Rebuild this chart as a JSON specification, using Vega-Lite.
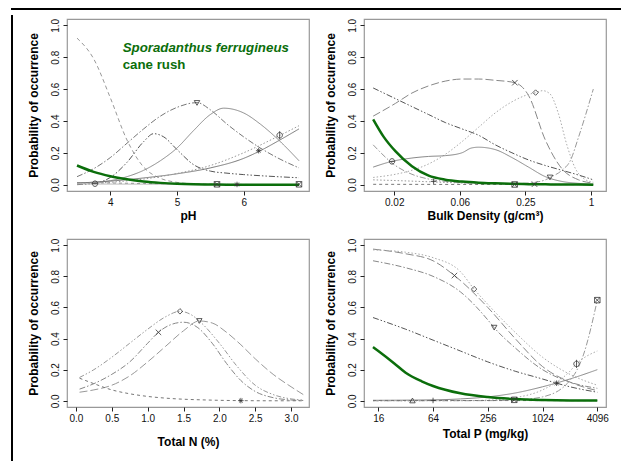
{
  "$schema": "https://vega.github.io/schema/vega-lite/v6.json",
  "padding": {"left": 9, "top": 6, "right": 0, "bottom": 0},
  "background": "white",
  "config": {
    "font": "Liberation Sans",
    "view": {"stroke": "#999", "strokeWidth": 1.2},
    "axis": {"domain": false, "grid": false, "ticks": true, "tickColor": "#222", "tickSize": 4, "labelFont": "Liberation Sans", "labelFontSize": 10, "labelColor": "#111", "labelPadding": 2, "titleFont": "Liberation Sans", "titleFontSize": 12, "titleFontWeight": "bold", "titleColor": "#000", "labelFlush": false, "labelOverlap": false},
    "axisX": {"titlePadding": 3, "labelOverlap": false},
    "axisY": {"labelAngle": 270, "labelAlign": "center", "labelBaseline": "bottom", "labelPadding": 3, "titlePadding": 10, "labelOverlap": false}
  },
  "datasets": {
    "ph": [
      {"c":"green","x":3.5,"y":0.12},{"c":"green","x":3.75,"y":0.08},{"c":"green","x":4,"y":0.053},{"c":"green","x":4.25,"y":0.034},{"c":"green","x":4.5,"y":0.02},{"c":"green","x":4.75,"y":0.011},{"c":"green","x":5,"y":0.005},{"c":"green","x":5.25,"y":0.002},{"c":"green","x":5.5,"y":0.001},{"c":"green","x":5.75,"y":0},{"c":"green","x":6,"y":0},{"c":"green","x":6.5,"y":0},{"c":"green","x":6.83,"y":0},
      {"c":"a2","x":3.5,"y":0.92},{"c":"a2","x":3.75,"y":0.79},{"c":"a2","x":4,"y":0.545},{"c":"a2","x":4.25,"y":0.28},{"c":"a2","x":4.5,"y":0.11},{"c":"a2","x":4.75,"y":0.04},{"c":"a2","x":5,"y":0.014},{"c":"a2","x":5.25,"y":0.005},{"c":"a2","x":5.5,"y":0.002},{"c":"a2","x":6,"y":0.001},{"c":"a2","x":6.83,"y":0},
      {"c":"a3","x":3.5,"y":0},{"c":"a3","x":3.75,"y":0.008},{"c":"a3","x":4,"y":0.045},{"c":"a3","x":4.25,"y":0.14},{"c":"a3","x":4.5,"y":0.27},{"c":"a3","x":4.65,"y":0.32},{"c":"a3","x":4.8,"y":0.3},{"c":"a3","x":5,"y":0.22},{"c":"a3","x":5.25,"y":0.125},{"c":"a3","x":5.5,"y":0.085},{"c":"a3","x":5.75,"y":0.072},{"c":"a3","x":6,"y":0.063},{"c":"a3","x":6.25,"y":0.056},{"c":"a3","x":6.5,"y":0.05},{"c":"a3","x":6.83,"y":0.043},
      {"c":"a4","x":3.5,"y":0.05},{"c":"a4","x":3.75,"y":0.1},{"c":"a4","x":4,"y":0.17},{"c":"a4","x":4.25,"y":0.26},{"c":"a4","x":4.5,"y":0.35},{"c":"a4","x":4.75,"y":0.43},{"c":"a4","x":5,"y":0.485},{"c":"a4","x":5.3,"y":0.515},{"c":"a4","x":5.5,"y":0.47},{"c":"a4","x":5.75,"y":0.38},{"c":"a4","x":6,"y":0.3},{"c":"a4","x":6.25,"y":0.23},{"c":"a4","x":6.5,"y":0.17},{"c":"a4","x":6.83,"y":0.105},
      {"c":"a5","x":3.5,"y":0.01},{"c":"a5","x":3.75,"y":0.015},{"c":"a5","x":4,"y":0.025},{"c":"a5","x":4.25,"y":0.05},{"c":"a5","x":4.5,"y":0.09},{"c":"a5","x":4.75,"y":0.15},{"c":"a5","x":5,"y":0.23},{"c":"a5","x":5.25,"y":0.34},{"c":"a5","x":5.5,"y":0.44},{"c":"a5","x":5.7,"y":0.48},{"c":"a5","x":6,"y":0.45},{"c":"a5","x":6.25,"y":0.38},{"c":"a5","x":6.5,"y":0.29},{"c":"a5","x":6.83,"y":0.15},
      {"c":"a6","x":3.5,"y":0.01},{"c":"a6","x":4,"y":0.022},{"c":"a6","x":4.5,"y":0.042},{"c":"a6","x":5,"y":0.068},{"c":"a6","x":5.5,"y":0.105},{"c":"a6","x":6,"y":0.165},{"c":"a6","x":6.25,"y":0.213},{"c":"a6","x":6.5,"y":0.27},{"c":"a6","x":6.83,"y":0.35},
      {"c":"a7","x":3.5,"y":0.005},{"c":"a7","x":4,"y":0.015},{"c":"a7","x":4.5,"y":0.035},{"c":"a7","x":5,"y":0.07},{"c":"a7","x":5.5,"y":0.12},{"c":"a7","x":6,"y":0.2},{"c":"a7","x":6.5,"y":0.3},{"c":"a7","x":6.83,"y":0.37},
      {"c":"a8","x":3.5,"y":0.012},{"c":"a8","x":4,"y":0.01},{"c":"a8","x":4.5,"y":0.007},{"c":"a8","x":5,"y":0.004},{"c":"a8","x":5.5,"y":0.002},{"c":"a8","x":6,"y":0.001},{"c":"a8","x":6.83,"y":0},
      {"c":"a9","x":3.5,"y":0.004},{"c":"a9","x":4.5,"y":0.003},{"c":"a9","x":5.5,"y":0.001},{"c":"a9","x":6.83,"y":0}
    ],
    "ph_pts": [
      {"s":"circ","x":3.77,"y":0.006},{"s":"tridown","x":5.3,"y":0.513},{"s":"boxx","x":5.6,"y":0.002},{"s":"star","x":5.9,"y":0.001},{"s":"star","x":6.225,"y":0.213},{"s":"phi","x":6.54,"y":0.31},{"s":"boxx","x":6.83,"y":0.002}
    ],
    "ph_txt": [
      {"t":"Sporadanthus ferrugineus","x":4.185,"y":0.858}
    ],
    "ph_txt2": [
      {"t":"cane rush","x":4.185,"y":0.753}
    ],
    "bd": [
      {"c":"green","x":0.01,"y":0.41},{"c":"green","x":0.0125,"y":0.3},{"c":"green","x":0.016,"y":0.21},{"c":"green","x":0.0227,"y":0.115},{"c":"green","x":0.0323,"y":0.056},{"c":"green","x":0.0459,"y":0.031},{"c":"green","x":0.0654,"y":0.019},{"c":"green","x":0.0929,"y":0.012},{"c":"green","x":0.132,"y":0.008},{"c":"green","x":0.188,"y":0.005},{"c":"green","x":0.267,"y":0.003},{"c":"green","x":0.381,"y":0.002},{"c":"green","x":0.541,"y":0.001},{"c":"green","x":0.77,"y":0.001},{"c":"green","x":1.05,"y":0},
      {"c":"b2","x":0.01,"y":0.43},{"c":"b2","x":0.016,"y":0.51},{"c":"b2","x":0.0227,"y":0.575},{"c":"b2","x":0.0323,"y":0.62},{"c":"b2","x":0.0459,"y":0.65},{"c":"b2","x":0.0654,"y":0.663},{"c":"b2","x":0.0929,"y":0.663},{"c":"b2","x":0.132,"y":0.655},{"c":"b2","x":0.2,"y":0.64},{"c":"b2","x":0.267,"y":0.56},{"c":"b2","x":0.381,"y":0.28},{"c":"b2","x":0.541,"y":0.1},{"c":"b2","x":0.77,"y":0.03},{"c":"b2","x":1.05,"y":0.01},
      {"c":"b3","x":0.01,"y":0.045},{"c":"b3","x":0.016,"y":0.065},{"c":"b3","x":0.0227,"y":0.09},{"c":"b3","x":0.0323,"y":0.13},{"c":"b3","x":0.0459,"y":0.19},{"c":"b3","x":0.0654,"y":0.27},{"c":"b3","x":0.0929,"y":0.36},{"c":"b3","x":0.132,"y":0.45},{"c":"b3","x":0.188,"y":0.52},{"c":"b3","x":0.25,"y":0.56},{"c":"b3","x":0.31,"y":0.578},{"c":"b3","x":0.36,"y":0.59},{"c":"b3","x":0.42,"y":0.57},{"c":"b3","x":0.5,"y":0.45},{"c":"b3","x":0.6,"y":0.25},{"c":"b3","x":0.72,"y":0.1},{"c":"b3","x":0.85,"y":0.04},{"c":"b3","x":1.05,"y":0.015},
      {"c":"b4","x":0.01,"y":0.607},{"c":"b4","x":0.016,"y":0.54},{"c":"b4","x":0.0227,"y":0.49},{"c":"b4","x":0.0323,"y":0.44},{"c":"b4","x":0.0459,"y":0.39},{"c":"b4","x":0.0654,"y":0.35},{"c":"b4","x":0.0929,"y":0.31},{"c":"b4","x":0.132,"y":0.25},{"c":"b4","x":0.188,"y":0.2},{"c":"b4","x":0.267,"y":0.155},{"c":"b4","x":0.381,"y":0.12},{"c":"b4","x":0.541,"y":0.09},{"c":"b4","x":0.77,"y":0.06},{"c":"b4","x":1.05,"y":0.03},
      {"c":"b5","x":0.01,"y":0.11},{"c":"b5","x":0.0149,"y":0.146},{"c":"b5","x":0.0227,"y":0.167},{"c":"b5","x":0.0323,"y":0.177},{"c":"b5","x":0.0459,"y":0.182},{"c":"b5","x":0.0654,"y":0.2},{"c":"b5","x":0.08,"y":0.23},{"c":"b5","x":0.0929,"y":0.235},{"c":"b5","x":0.132,"y":0.22},{"c":"b5","x":0.188,"y":0.17},{"c":"b5","x":0.267,"y":0.11},{"c":"b5","x":0.381,"y":0.05},{"c":"b5","x":0.541,"y":0.02},{"c":"b5","x":0.77,"y":0.008},{"c":"b5","x":1.05,"y":0.003},
      {"c":"b6","x":0.01,"y":0.25},{"c":"b6","x":0.016,"y":0.12},{"c":"b6","x":0.0227,"y":0.065},{"c":"b6","x":0.0323,"y":0.035},{"c":"b6","x":0.0459,"y":0.02},{"c":"b6","x":0.0654,"y":0.012},{"c":"b6","x":0.0929,"y":0.008},{"c":"b6","x":0.132,"y":0.006},{"c":"b6","x":0.188,"y":0.006},{"c":"b6","x":0.267,"y":0.01},{"c":"b6","x":0.381,"y":0.03},{"c":"b6","x":0.42,"y":0.045},{"c":"b6","x":0.541,"y":0.09},{"c":"b6","x":0.645,"y":0.15},{"c":"b6","x":0.77,"y":0.3},{"c":"b6","x":1.05,"y":0.6},
      {"c":"b7","x":0.01,"y":0.002},{"c":"b7","x":1.05,"y":0},
      {"c":"b8","x":0.01,"y":0.03},{"c":"b8","x":0.0227,"y":0.022},{"c":"b8","x":0.0323,"y":0.018},{"c":"b8","x":0.0654,"y":0.01},{"c":"b8","x":0.188,"y":0.004},{"c":"b8","x":0.381,"y":0.002},{"c":"b8","x":1.05,"y":0}
    ],
    "bd_pts": [
      {"s":"circ","x":0.0149,"y":0.146},{"s":"plus","x":0.0359,"y":0.02},{"s":"x","x":0.2,"y":0.64},{"s":"diamond","x":0.31,"y":0.578},{"s":"boxx","x":0.199,"y":0.001},{"s":"x","x":0.303,"y":0.003},{"s":"tridown","x":0.42,"y":0.045}
    ],
    "tn": [
      {"c":"c1","x":0.05,"y":0.15},{"c":"c1","x":0.25,"y":0.2},{"c":"c1","x":0.5,"y":0.28},{"c":"c1","x":0.75,"y":0.37},{"c":"c1","x":1,"y":0.46},{"c":"c1","x":1.25,"y":0.54},{"c":"c1","x":1.45,"y":0.575},{"c":"c1","x":1.6,"y":0.555},{"c":"c1","x":1.75,"y":0.5},{"c":"c1","x":2,"y":0.37},{"c":"c1","x":2.25,"y":0.22},{"c":"c1","x":2.5,"y":0.1},{"c":"c1","x":2.75,"y":0.04},{"c":"c1","x":3,"y":0.012},{"c":"c1","x":3.17,"y":0.005},
      {"c":"c2","x":0.05,"y":0.075},{"c":"c2","x":0.25,"y":0.11},{"c":"c2","x":0.5,"y":0.17},{"c":"c2","x":0.75,"y":0.25},{"c":"c2","x":1,"y":0.37},{"c":"c2","x":1.15,"y":0.44},{"c":"c2","x":1.3,"y":0.485},{"c":"c2","x":1.5,"y":0.505},{"c":"c2","x":1.7,"y":0.47},{"c":"c2","x":1.9,"y":0.37},{"c":"c2","x":2.1,"y":0.24},{"c":"c2","x":2.3,"y":0.13},{"c":"c2","x":2.5,"y":0.06},{"c":"c2","x":2.75,"y":0.02},{"c":"c2","x":3,"y":0.005},{"c":"c2","x":3.17,"y":0.002},
      {"c":"c3","x":0.05,"y":0.055},{"c":"c3","x":0.25,"y":0.07},{"c":"c3","x":0.5,"y":0.1},{"c":"c3","x":0.75,"y":0.16},{"c":"c3","x":1,"y":0.25},{"c":"c3","x":1.25,"y":0.35},{"c":"c3","x":1.5,"y":0.45},{"c":"c3","x":1.72,"y":0.513},{"c":"c3","x":1.9,"y":0.5},{"c":"c3","x":2.1,"y":0.44},{"c":"c3","x":2.3,"y":0.36},{"c":"c3","x":2.5,"y":0.27},{"c":"c3","x":2.75,"y":0.17},{"c":"c3","x":3,"y":0.09},{"c":"c3","x":3.17,"y":0.04},
      {"c":"c4","x":0.05,"y":0.145},{"c":"c4","x":0.25,"y":0.11},{"c":"c4","x":0.5,"y":0.07},{"c":"c4","x":0.75,"y":0.045},{"c":"c4","x":1,"y":0.028},{"c":"c4","x":1.25,"y":0.017},{"c":"c4","x":1.5,"y":0.01},{"c":"c4","x":1.75,"y":0.006},{"c":"c4","x":2,"y":0.003},{"c":"c4","x":2.3,"y":0.001},{"c":"c4","x":2.75,"y":0},{"c":"c4","x":3.17,"y":0}
    ],
    "tn_pts": [
      {"s":"x","x":1.15,"y":0.44},{"s":"diamond","x":1.45,"y":0.575},{"s":"tridown","x":1.72,"y":0.513},{"s":"star","x":2.3,"y":0.001}
    ],
    "tp": [
      {"c":"green","x":14,"y":0.345},{"c":"green","x":16,"y":0.32},{"c":"green","x":24,"y":0.24},{"c":"green","x":32,"y":0.18},{"c":"green","x":48,"y":0.125},{"c":"green","x":64,"y":0.095},{"c":"green","x":128,"y":0.048},{"c":"green","x":256,"y":0.024},{"c":"green","x":512,"y":0.011},{"c":"green","x":1024,"y":0.005},{"c":"green","x":2048,"y":0.002},{"c":"green","x":4096,"y":0.001},
      {"c":"d2","x":14,"y":0.975},{"c":"d2","x":32,"y":0.945},{"c":"d2","x":64,"y":0.9},{"c":"d2","x":110,"y":0.805},{"c":"d2","x":256,"y":0.6},{"c":"d2","x":512,"y":0.4},{"c":"d2","x":1024,"y":0.22},{"c":"d2","x":2048,"y":0.12},{"c":"d2","x":4096,"y":0.065},
      {"c":"d3","x":14,"y":0.97},{"c":"d3","x":32,"y":0.955},{"c":"d3","x":64,"y":0.92},{"c":"d3","x":128,"y":0.83},{"c":"d3","x":181,"y":0.718},{"c":"d3","x":256,"y":0.62},{"c":"d3","x":512,"y":0.44},{"c":"d3","x":1024,"y":0.28},{"c":"d3","x":2048,"y":0.17},{"c":"d3","x":4096,"y":0.1},
      {"c":"d4","x":14,"y":0.9},{"c":"d4","x":32,"y":0.855},{"c":"d4","x":64,"y":0.8},{"c":"d4","x":128,"y":0.7},{"c":"d4","x":256,"y":0.52},{"c":"d4","x":301,"y":0.47},{"c":"d4","x":512,"y":0.34},{"c":"d4","x":1024,"y":0.2},{"c":"d4","x":2048,"y":0.12},{"c":"d4","x":4096,"y":0.08},
      {"c":"d5","x":14,"y":0.535},{"c":"d5","x":32,"y":0.46},{"c":"d5","x":64,"y":0.39},{"c":"d5","x":128,"y":0.32},{"c":"d5","x":256,"y":0.25},{"c":"d5","x":512,"y":0.19},{"c":"d5","x":1024,"y":0.14},{"c":"d5","x":1461,"y":0.113},{"c":"d5","x":2048,"y":0.09},{"c":"d5","x":4096,"y":0.055},
      {"c":"d6","x":14,"y":0.003},{"c":"d6","x":64,"y":0.006},{"c":"d6","x":128,"y":0.012},{"c":"d6","x":256,"y":0.025},{"c":"d6","x":512,"y":0.05},{"c":"d6","x":1024,"y":0.09},{"c":"d6","x":2048,"y":0.14},{"c":"d6","x":4096,"y":0.2},
      {"c":"d7","x":14,"y":0},{"c":"d7","x":128,"y":0.001},{"c":"d7","x":256,"y":0.004},{"c":"d7","x":512,"y":0.02},{"c":"d7","x":1024,"y":0.07},{"c":"d7","x":2048,"y":0.19},{"c":"d7","x":2420,"y":0.237},{"c":"d7","x":4096,"y":0.32},
      {"c":"d8","x":14,"y":0},{"c":"d8","x":256,"y":0.001},{"c":"d8","x":512,"y":0.005},{"c":"d8","x":1024,"y":0.025},{"c":"d8","x":2048,"y":0.13},{"c":"d8","x":2900,"y":0.3},{"c":"d8","x":4096,"y":0.647},
      {"c":"d9","x":14,"y":0.002},{"c":"d9","x":4096,"y":0.001}
    ],
    "tp_pts": [
      {"s":"triup","x":38,"y":0.002},{"s":"plus","x":64,"y":0.002},{"s":"x","x":110,"y":0.805},{"s":"diamond","x":181,"y":0.718},{"s":"tridown","x":301,"y":0.47},{"s":"boxx","x":500,"y":0.006},{"s":"star","x":1461,"y":0.113},{"s":"phi","x":2420,"y":0.237},{"s":"boxx","x":4096,"y":0.647}
    ],
    "blank": [{}]
  },
  "spacing": 0,
  "vconcat": [
    {"data": {"name": "blank"}, "width": 610, "height": 2, "view": {"fill": "#000", "stroke": null}, "mark": {"type": "point", "opacity": 0}, "encoding": {}},
    {
      "spacing": 17,
      "hconcat": [
        {
          "spacing": 11,
          "hconcat": [
            {"data": {"name": "blank"}, "width": 2, "height": 460, "view": {"fill": "#000", "stroke": null}, "mark": {"type": "point", "opacity": 0}, "encoding": {}},
            {
              "spacing": -6,
              "vconcat": [
                {"data": {"name": "blank"}, "width": 5, "height": 1, "view": {"stroke": null}, "mark": {"type": "point", "opacity": 0}, "encoding": {}},
                {
                  "columns": 2,
                  "bounds": "flush",
                  "spacing": {"row": 48, "column": 55},
                  "concat": [
                    {
                      "width": 242, "height": 172,
                      "layer": [
                        {"data": {"name": "ph"}, "transform": [{"filter": "datum.c !== 'green'"}],
                         "mark": {"type": "line", "strokeWidth": 1, "interpolate": "monotone"},
                         "encoding": {
                           "x": {"field": "x", "type": "quantitative", "scale": {"domain": [3.35, 6.98], "nice": false, "zero": false}, "axis": {"title": "pH", "values": [4, 5, 6], "format": "d"}},
                           "y": {"field": "y", "type": "quantitative", "scale": {"domain": [-0.04, 1.04], "nice": false, "zero": false}, "axis": {"title": "Probability of occurrence", "values": [0, 0.2, 0.4, 0.6, 0.8, 1], "format": ".1f", "labelOverlap": false, "tickCount": 6}},
                           "color": {"field": "c", "type": "nominal", "legend": null, "scale": {"domain": ["a2","a3","a4","a5","a6","a7","a8","a9","b2","b3","b4","b5","b6","b7","b8","c1","c2","c3","c4","d2","d3","d4","d5","d6","d7","d8","d9"], "range": ["#999","#555","#777","#888","#777","#999","#888","#bbb","#888","#aaa","#555","#888","#999","#777","#999","#999","#888","#999","#777","#888","#aaa","#888","#555","#888","#aaa","#999","#777"]}},
                           "strokeDash": {"field": "c", "type": "nominal", "legend": null, "scale": {"domain": ["a2","a3","a4","a5","a6","a7","a8","a9","b2","b3","b4","b5","b6","b7","b8","c1","c2","c3","c4","d2","d3","d4","d5","d6","d7","d8","d9"], "range": [[4,3],[6,2,1.5,2,1.5,2],[6,2,1.5,2],[1,0],[1,0],[1.5,2],[3,3],[1,0],[8,3],[1.5,2],[6,2,1.5,2,1.5,2],[1,0],[6,2,1.5,2],[3,3],[1.5,2],[5,2,1.5,2,1.5,2],[6,2,1.5,2],[8,3],[3,3],[8,3],[1.5,2],[6,2,1.5,2],[6,2,1.5,2,1.5,2],[1,0],[1.5,2],[6,2,1.5,2],[3,3]]}}
                         }},
                        {"data": {"name": "ph"}, "transform": [{"filter": "datum.c === 'green'"}],
                         "mark": {"type": "line", "strokeWidth": 2.5, "color": "#0b6e0b", "interpolate": "monotone"},
                         "encoding": {"x": {"field": "x", "type": "quantitative"}, "y": {"field": "y", "type": "quantitative"}}},
                        {"data": {"name": "ph_pts"},
                         "mark": {"type": "point", "filled": false, "size": 30, "strokeWidth": 0.8, "color": "#333", "opacity": 1},
                         "encoding": {"x": {"field": "x", "type": "quantitative"}, "y": {"field": "y", "type": "quantitative"},
                           "shape": {"field": "s", "type": "nominal", "legend": null, "scale": {"domain": ["x","diamond","tridown","triup","star","plus","circ","boxx","phi"], "range": ["M-1,-1L1,1M-1,1L1,-1","diamond","triangle-down","triangle-up","M-1,0L1,0M0,-1L0,1M-0.7,-0.7L0.7,0.7M-0.7,0.7L0.7,-0.7","M-1,0L1,0M0,-1L0,1","M-1,0A1,1 0 1,1 1,0A1,1 0 1,1 -1,0ZM-1,0L1,0","M-1,-1H1V1H-1ZM-1,-1L1,1M-1,1L1,-1","M-1,0A1,1 0 1,1 1,0A1,1 0 1,1 -1,0ZM0,-1.5L0,1.5"]}}}},
                        {"data": {"name": "ph_txt"},
                         "mark": {"type": "text", "align": "left", "baseline": "middle", "font": "Liberation Sans", "fontSize": 13.3, "fontWeight": "bold", "fontStyle": "italic", "color": "#0b6e0b"},
                         "encoding": {"x": {"field": "x", "type": "quantitative"}, "y": {"field": "y", "type": "quantitative"}, "text": {"field": "t"}}},
                        {"data": {"name": "ph_txt2"},
                         "mark": {"type": "text", "align": "left", "baseline": "middle", "font": "Liberation Sans", "fontSize": 13.3, "fontWeight": "bold", "color": "#0b6e0b"},
                         "encoding": {"x": {"field": "x", "type": "quantitative"}, "y": {"field": "y", "type": "quantitative"}, "text": {"field": "t"}}}
                      ]
                    },
                    {
                      "width": 242, "height": 172,
                      "layer": [
                        {"data": {"name": "bd"}, "transform": [{"filter": "datum.c !== 'green'"}],
                         "mark": {"type": "line", "strokeWidth": 1, "interpolate": "monotone"},
                         "encoding": {
                           "x": {"field": "x", "type": "quantitative", "scale": {"type": "log", "domain": [0.00824, 1.373], "nice": false}, "axis": {"title": "Bulk Density (g/cm³)", "values": [0.015625, 0.0625, 0.25, 1], "labelExpr": "datum.value < 0.03 ? '0.02' : datum.value < 0.1 ? '0.06' : datum.value < 0.5 ? '0.25' : '1'"}},
                           "y": {"field": "y", "type": "quantitative", "scale": {"domain": [-0.04, 1.04], "nice": false, "zero": false}, "axis": {"title": "Probability of occurrence", "values": [0, 0.2, 0.4, 0.6, 0.8, 1], "format": ".1f", "labelOverlap": false, "tickCount": 6}},
                           "color": {"field": "c", "type": "nominal", "legend": null},
                           "strokeDash": {"field": "c", "type": "nominal", "legend": null}
                         }},
                        {"data": {"name": "bd"}, "transform": [{"filter": "datum.c === 'green'"}],
                         "mark": {"type": "line", "strokeWidth": 2.5, "color": "#0b6e0b", "interpolate": "monotone"},
                         "encoding": {"x": {"field": "x", "type": "quantitative"}, "y": {"field": "y", "type": "quantitative"}}},
                        {"data": {"name": "bd_pts"},
                         "mark": {"type": "point", "filled": false, "size": 30, "strokeWidth": 0.8, "color": "#333", "opacity": 1},
                         "encoding": {"x": {"field": "x", "type": "quantitative"}, "y": {"field": "y", "type": "quantitative"},
                           "shape": {"field": "s", "type": "nominal", "legend": null}}}
                      ]
                    },
                    {
                      "width": 242, "height": 168,
                      "layer": [
                        {"data": {"name": "tn"},
                         "mark": {"type": "line", "strokeWidth": 1, "interpolate": "monotone"},
                         "encoding": {
                           "x": {"field": "x", "type": "quantitative", "scale": {"domain": [-0.125, 3.25], "nice": false, "zero": false}, "axis": {"title": "Total N (%)", "values": [0, 0.5, 1, 1.5, 2, 2.5, 3], "format": ".1f", "titlePadding": 13}},
                           "y": {"field": "y", "type": "quantitative", "scale": {"domain": [-0.04, 1.04], "nice": false, "zero": false}, "axis": {"title": "Probability of occurrence", "values": [0, 0.2, 0.4, 0.6, 0.8, 1], "format": ".1f", "labelOverlap": false, "tickCount": 6}},
                           "color": {"field": "c", "type": "nominal", "legend": null},
                           "strokeDash": {"field": "c", "type": "nominal", "legend": null}
                         }},
                        {"data": {"name": "tn_pts"},
                         "mark": {"type": "point", "filled": false, "size": 30, "strokeWidth": 0.8, "color": "#333", "opacity": 1},
                         "encoding": {"x": {"field": "x", "type": "quantitative"}, "y": {"field": "y", "type": "quantitative"},
                           "shape": {"field": "s", "type": "nominal", "legend": null}}}
                      ]
                    },
                    {
                      "width": 242, "height": 168,
                      "layer": [
                        {"data": {"name": "tp"}, "transform": [{"filter": "datum.c !== 'green'"}],
                         "mark": {"type": "line", "strokeWidth": 1, "interpolate": "monotone"},
                         "encoding": {
                           "x": {"field": "x", "type": "quantitative", "scale": {"type": "log", "domain": [11.14, 5105], "nice": false}, "axis": {"title": "Total P (mg/kg)", "values": [16, 64, 256, 1024, 4096], "format": "d", "titlePadding": 5}},
                           "y": {"field": "y", "type": "quantitative", "scale": {"domain": [-0.04, 1.04], "nice": false, "zero": false}, "axis": {"title": "Probability of occurrence", "values": [0, 0.2, 0.4, 0.6, 0.8, 1], "format": ".1f", "labelOverlap": false, "tickCount": 6}},
                           "color": {"field": "c", "type": "nominal", "legend": null},
                           "strokeDash": {"field": "c", "type": "nominal", "legend": null}
                         }},
                        {"data": {"name": "tp"}, "transform": [{"filter": "datum.c === 'green'"}],
                         "mark": {"type": "line", "strokeWidth": 2.5, "color": "#0b6e0b", "interpolate": "monotone"},
                         "encoding": {"x": {"field": "x", "type": "quantitative"}, "y": {"field": "y", "type": "quantitative"}}},
                        {"data": {"name": "tp_pts"},
                         "mark": {"type": "point", "filled": false, "size": 30, "strokeWidth": 0.8, "color": "#333", "opacity": 1},
                         "encoding": {"x": {"field": "x", "type": "quantitative"}, "y": {"field": "y", "type": "quantitative"},
                           "shape": {"field": "s", "type": "nominal", "legend": null}}}
                      ]
                    }
                  ]
                }
              ]
            }
          ]
        },
        {"data": {"name": "blank"}, "width": 2, "height": 460, "view": {"fill": "#000", "stroke": null}, "mark": {"type": "point", "opacity": 0}, "encoding": {}}
      ]
    }
  ]
}
